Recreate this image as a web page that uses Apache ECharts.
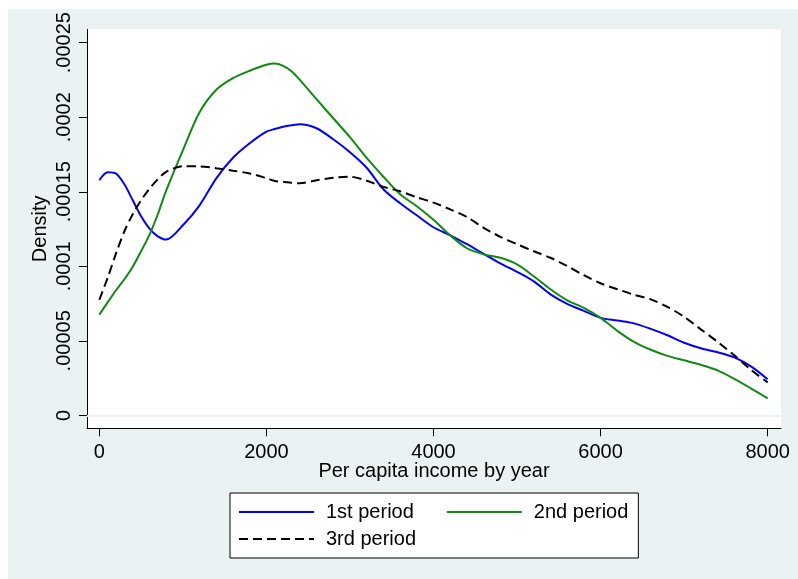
<!DOCTYPE html>
<html>
<head>
<meta charset="utf-8">
<script src="https://cdn.jsdelivr.net/npm/echarts@6/dist/echarts.min.js"></script>
<style>
  html, body { margin: 0; padding: 0; background: #ffffff; }
  #c { position: absolute; left: 8px; top: 9px; width: 790px; height: 570px; }
</style>
</head>
<body>
<div id="c"></div>
<script>
// ---- data ----
const incomeValues = [0,100,200,300,400,500,600,700,800,1000,1200,1400,1600,1800,2000,2100,2200,2300,2400,2600,2800,3000,3200,3400,3600,3800,4000,
  4200,4400,4600,4800,5000,5200,5400,5600,5800,6000,6200,6400,6600,6800,7000,7200,7400,7600,7800,8000];

// densities in units of 0.0001
const period1 = [1.577,1.631,1.622,1.550,1.443,1.335,1.253,1.201,1.179,1.275,1.409,1.590,1.728,1.825,1.903,1.921,1.936,1.946,1.953,1.926,1.852,1.765,1.661,1.517,1.423,1.342,1.262,
  1.208,1.148,1.084,1.020,0.963,0.899,0.812,0.748,0.701,0.654,0.636,0.617,0.580,0.537,0.487,0.450,0.423,0.389,0.329,0.242];

const period2 = [0.676,0.758,0.839,0.913,0.997,1.101,1.211,1.349,1.507,1.778,2.033,2.184,2.262,2.312,2.352,2.360,2.345,2.309,2.251,2.121,1.993,1.866,1.727,1.601,1.483,1.403,1.312,
  1.208,1.121,1.080,1.057,1.013,0.933,0.846,0.772,0.721,0.654,0.567,0.493,0.440,0.399,0.369,0.339,0.302,0.245,0.181,0.114];

const period3 = [0.775,0.923,1.087,1.235,1.349,1.443,1.520,1.584,1.634,1.671,1.670,1.658,1.641,1.623,1.591,1.572,1.567,1.560,1.557,1.577,1.594,1.601,1.574,1.533,1.503,1.463,1.427,
  1.382,1.331,1.258,1.198,1.148,1.101,1.057,1.002,0.940,0.886,0.846,0.809,0.778,0.728,0.661,0.577,0.493,0.403,0.305,0.221];
const valueScale = 1e-4;

const seriesNames = ['1st period', '2nd period', '3rd period'];
const xTickValues = [0, 2000, 4000, 6000, 8000];
const xTickLabels = ['0', '2000', '4000', '6000', '8000'];
const yTickValues = [0, 0.00005, 0.0001, 0.00015, 0.0002, 0.00025];
const yTickLabels = ['0', '.00005', '.0001', '.00015', '.0002', '.00025'];
const xTitle = 'Per capita income by year';
const yTitle = 'Density';

// ---- chart ----
const toPairs = arr => incomeValues.map((x, i) => [x, arr[i] * valueScale]);
const FONT = '"Liberation Sans", Arial, sans-serif';

const chart = echarts.init(document.getElementById('c'), null, { renderer: 'canvas' });

const labelFor = (vals, labels) => v => {
  for (let i = 0; i < vals.length; i++) {
    if (Math.abs(vals[i] - v) <= Math.abs(vals[vals.length - 1]) * 1e-6) return labels[i];
  }
  return '';
};

const legendText = { fontSize: 20, color: '#000', fontFamily: FONT, lineHeight: 20, padding: [0, 0, 0, 7] };

const option = {
  backgroundColor: '#EAF2F3',
  animation: false,
  textStyle: { fontFamily: FONT },
  grid: {
    left: 79, top: 20.3, right: 17, bottom: 150.7,
    show: true, backgroundColor: '#ffffff', borderWidth: 0
  },
  xAxis: {
    type: 'value',
    min: -147.6, max: 8159.6,
    name: xTitle, nameLocation: 'middle', nameGap: 33, nameMoveOverlap: false,
    nameTextStyle: { fontSize: 20, color: '#000', fontFamily: FONT },
    axisLine: { show: true, onZero: false, lineStyle: { color: '#000', width: 1 } },
    axisTick: { show: true, length: 8, customValues: xTickValues, lineStyle: { color: '#000', width: 1 } },
    axisLabel: { show: true, customValues: xTickValues, margin: 14, fontSize: 20, color: '#000', fontFamily: FONT,
      formatter: labelFor(xTickValues, xTickLabels) },
    splitLine: { show: false }
  },
  yAxis: {
    type: 'value',
    min: -0.0000087, max: 0.000259,
    name: yTitle, nameLocation: 'middle', nameGap: 36.5, nameMoveOverlap: false,
    nameTextStyle: { fontSize: 20, color: '#000', fontFamily: FONT },
    axisLine: { show: true, onZero: false, lineStyle: { color: '#000', width: 1 } },
    axisTick: { show: true, length: 8, customValues: yTickValues, lineStyle: { color: '#000', width: 1 } },
    axisLabel: { show: true, customValues: yTickValues, rotate: 90, margin: 12.5, fontSize: 20, color: '#000', fontFamily: FONT,
      formatter: labelFor(yTickValues, yTickLabels) },
    splitLine: { show: false }
  },
  legend: [
    {
      data: [seriesNames[0], seriesNames[1]],
      left: 222, top: 484,
      orient: 'horizontal',
      itemWidth: 75, itemHeight: 14, itemGap: 32,
      padding: [9, 10, 36, 8],
      backgroundColor: '#ffffff', borderColor: '#000', borderWidth: 1, borderRadius: 0,
      itemStyle: { opacity: 0 },
      textStyle: legendText,
      selectedMode: false
    },
    {
      data: [seriesNames[2]],
      left: 230, top: 520,
      orient: 'horizontal',
      itemWidth: 75, itemHeight: 14,
      padding: 0,
      itemStyle: { opacity: 0 },
      textStyle: legendText,
      selectedMode: false
    }
  ],
  series: [
    {
      name: seriesNames[0], type: 'line', data: toPairs(period1),
      smooth: 0.3, showSymbol: false, symbol: 'none',
      lineStyle: { color: '#0000FF', width: 2 }, itemStyle: { color: '#0000FF' },
      z: 3,
      markLine: {
        silent: true, symbol: ['none', 'none'], z: 1,
        label: { show: false },
        lineStyle: { color: '#EAF2F3', width: 1.5, type: 'solid' },
        data: yTickValues.map(v => ({ yAxis: v }))
      }
    },
    {
      name: seriesNames[1], type: 'line', data: toPairs(period2),
      smooth: 0.3, showSymbol: false, symbol: 'none',
      lineStyle: { color: '#128A12', width: 2 }, itemStyle: { color: '#128A12' },
      z: 3
    },
    {
      name: seriesNames[2], type: 'line', data: toPairs(period3),
      smooth: 0.3, showSymbol: false, symbol: 'none',
      lineStyle: { color: '#000000', width: 2, type: [9, 5] }, itemStyle: { color: '#000000' },
      z: 3
    }
  ]
};
chart.setOption(option);
</script>
</body>
</html>
